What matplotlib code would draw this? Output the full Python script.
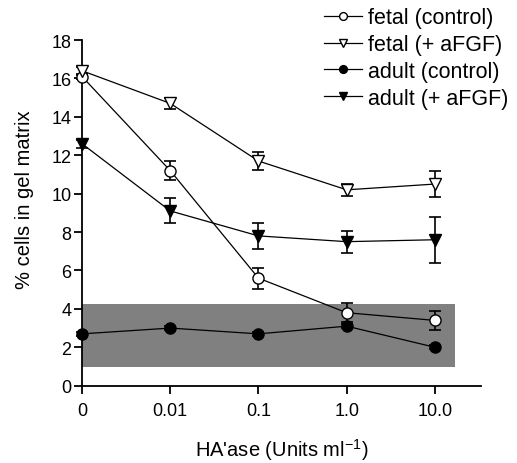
import matplotlib
matplotlib.use("Agg")
import matplotlib.pyplot as plt
from matplotlib.patches import Rectangle

plt.rcParams["font.family"] = ["Liberation Sans", "DejaVu Sans"]

dose_labels = ["0", "0.01", "0.1", "1.0", "10.0"]

fetal_ctrl = [16.1, 11.2, 5.6, 3.8, 3.4]
fetal_ctrl_err = [0.15, 0.5, 0.55, 0.5, 0.5]
fetal_fgf = [16.4, 14.7, 11.7, 10.2, 10.5]
fetal_fgf_err = [0.2, 0.27, 0.47, 0.3, 0.7]
adult_ctrl = [2.7, 3.0, 2.7, 3.1, 2.0]
adult_ctrl_err = [0.1, 0.1, 0.1, 0.1, 0.1]
adult_fgf = [12.6, 9.1, 7.8, 7.5, 7.6]
adult_fgf_err = [0.2, 0.65, 0.68, 0.57, 1.2]

# shaded band (background range)
band_lo, band_hi = 0.95, 4.25

fig = plt.figure(figsize=(5.17, 4.64), dpi=100)
ax = fig.add_axes([0.1586, 0.1666, 0.7714, 0.745])

x = list(range(len(dose_labels)))
ax.add_patch(Rectangle((0, band_lo), 4.23, band_hi - band_lo,
                       facecolor="#808080", edgecolor="none", zorder=0))

series = [
    (fetal_ctrl, fetal_ctrl_err, "o", "white", "fetal (control)"),
    (fetal_fgf, fetal_fgf_err, "v", "white", "fetal (+ aFGF)"),
    (adult_ctrl, adult_ctrl_err, "o", "black", "adult (control)"),
    (adult_fgf, adult_fgf_err, "v", "black", "adult (+ aFGF)"),
]
handles = []
for y, e, m, fc, lab in series:
    ax.errorbar(x, y, yerr=e, fmt="none", ecolor="black", elinewidth=1.2,
                capsize=4.5, capthick=1.2, zorder=2, clip_on=False)
    h, = ax.plot(x, y, color="black", lw=0.9, marker=m, markersize=8 if m == "o" else 8.5,
                 markerfacecolor=fc, markeredgecolor="black", markeredgewidth=1.0,
                 zorder=3, clip_on=False, label=lab)
    handles.append(h)

ax.set_xlim(0, 4.52)
ax.set_ylim(0, 18)
ax.set_xticks(x)
ax.set_xticklabels(dose_labels)
ax.set_yticks(range(0, 19, 2))
for s in ["top", "right"]:
    ax.spines[s].set_visible(False)
for s in ["left", "bottom"]:
    ax.spines[s].set_linewidth(1.3)
ax.tick_params(direction="out", length=6, width=1.3, labelsize=13)
ax.tick_params(axis="y", pad=1.5)
ax.tick_params(axis="x", pad=6)

ax.set_xlabel("HA'ase (Units ml$^{\\mathregular{-1}}$)", fontsize=14.5, labelpad=12)
ax.set_ylabel("% cells in gel matrix", fontsize=14.5)
ax.yaxis.set_label_coords(-0.12, 0.54)

leg = fig.legend(handles=handles, loc="upper right", bbox_to_anchor=(1.009, 1.01),
                 frameon=False, fontsize=15.5, handlelength=1.75, handletextpad=0.3,
                 labelspacing=0.27, markerscale=0.7, borderaxespad=0.2)

fig.savefig("out.png", dpi=100)
